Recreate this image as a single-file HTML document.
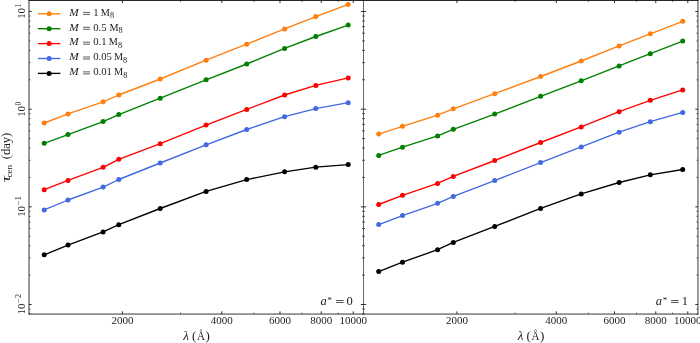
<!DOCTYPE html>
<html><head><meta charset="utf-8"><style>
html,body{margin:0;padding:0;background:#fff;}
body{width:700px;height:343px;overflow:hidden;}
svg{display:block;will-change:transform;font-family:"Liberation Serif",serif;}
</style></head><body>
<svg width="700" height="343" viewBox="0 0 700 343">
<g><polyline points="44.2,123 68,113.9 103.1,101.8 118.8,95 160.2,79 206.1,60.2 246.7,44.2 284.6,28.9 315.8,16.6 348.2,4.4" fill="none" stroke="#ff7f0e" stroke-width="1.35" stroke-linejoin="round"/>
<circle cx="44.2" cy="123" r="2.5" fill="#ff7f0e"/>
<circle cx="68" cy="113.9" r="2.5" fill="#ff7f0e"/>
<circle cx="103.1" cy="101.8" r="2.5" fill="#ff7f0e"/>
<circle cx="118.8" cy="95" r="2.5" fill="#ff7f0e"/>
<circle cx="160.2" cy="79" r="2.5" fill="#ff7f0e"/>
<circle cx="206.1" cy="60.2" r="2.5" fill="#ff7f0e"/>
<circle cx="246.7" cy="44.2" r="2.5" fill="#ff7f0e"/>
<circle cx="284.6" cy="28.9" r="2.5" fill="#ff7f0e"/>
<circle cx="315.8" cy="16.6" r="2.5" fill="#ff7f0e"/>
<circle cx="348.2" cy="4.4" r="2.5" fill="#ff7f0e"/>
<polyline points="44.2,143.3 68,134.6 103.1,121.6 118.8,114.6 160.2,98.2 206.1,79.8 246.7,64 284.6,48.4 315.8,36.5 348.2,25.1" fill="none" stroke="#008000" stroke-width="1.35" stroke-linejoin="round"/>
<circle cx="44.2" cy="143.3" r="2.5" fill="#008000"/>
<circle cx="68" cy="134.6" r="2.5" fill="#008000"/>
<circle cx="103.1" cy="121.6" r="2.5" fill="#008000"/>
<circle cx="118.8" cy="114.6" r="2.5" fill="#008000"/>
<circle cx="160.2" cy="98.2" r="2.5" fill="#008000"/>
<circle cx="206.1" cy="79.8" r="2.5" fill="#008000"/>
<circle cx="246.7" cy="64" r="2.5" fill="#008000"/>
<circle cx="284.6" cy="48.4" r="2.5" fill="#008000"/>
<circle cx="315.8" cy="36.5" r="2.5" fill="#008000"/>
<circle cx="348.2" cy="25.1" r="2.5" fill="#008000"/>
<polyline points="44.2,189.7 68,180.4 103.1,167.3 118.8,159.3 160.2,143.7 206.1,125.1 246.7,109.4 284.6,95 315.8,85.4 348.2,77.9" fill="none" stroke="#ff0000" stroke-width="1.35" stroke-linejoin="round"/>
<circle cx="44.2" cy="189.7" r="2.5" fill="#ff0000"/>
<circle cx="68" cy="180.4" r="2.5" fill="#ff0000"/>
<circle cx="103.1" cy="167.3" r="2.5" fill="#ff0000"/>
<circle cx="118.8" cy="159.3" r="2.5" fill="#ff0000"/>
<circle cx="160.2" cy="143.7" r="2.5" fill="#ff0000"/>
<circle cx="206.1" cy="125.1" r="2.5" fill="#ff0000"/>
<circle cx="246.7" cy="109.4" r="2.5" fill="#ff0000"/>
<circle cx="284.6" cy="95" r="2.5" fill="#ff0000"/>
<circle cx="315.8" cy="85.4" r="2.5" fill="#ff0000"/>
<circle cx="348.2" cy="77.9" r="2.5" fill="#ff0000"/>
<polyline points="44.2,209.9 68,200 103.1,187.1 118.8,179.5 160.2,163 206.1,144.8 246.7,129.5 284.6,116.7 315.8,108.6 348.2,102.7" fill="none" stroke="#4169e1" stroke-width="1.35" stroke-linejoin="round"/>
<circle cx="44.2" cy="209.9" r="2.5" fill="#4169e1"/>
<circle cx="68" cy="200" r="2.5" fill="#4169e1"/>
<circle cx="103.1" cy="187.1" r="2.5" fill="#4169e1"/>
<circle cx="118.8" cy="179.5" r="2.5" fill="#4169e1"/>
<circle cx="160.2" cy="163" r="2.5" fill="#4169e1"/>
<circle cx="206.1" cy="144.8" r="2.5" fill="#4169e1"/>
<circle cx="246.7" cy="129.5" r="2.5" fill="#4169e1"/>
<circle cx="284.6" cy="116.7" r="2.5" fill="#4169e1"/>
<circle cx="315.8" cy="108.6" r="2.5" fill="#4169e1"/>
<circle cx="348.2" cy="102.7" r="2.5" fill="#4169e1"/>
<polyline points="44.2,254.8 68,245.1 103.1,231.9 118.8,224.7 160.2,208.5 206.1,191.4 246.7,179.6 284.6,171.8 315.8,167.2 348.2,164.6" fill="none" stroke="#000000" stroke-width="1.35" stroke-linejoin="round"/>
<circle cx="44.2" cy="254.8" r="2.5" fill="#000000"/>
<circle cx="68" cy="245.1" r="2.5" fill="#000000"/>
<circle cx="103.1" cy="231.9" r="2.5" fill="#000000"/>
<circle cx="118.8" cy="224.7" r="2.5" fill="#000000"/>
<circle cx="160.2" cy="208.5" r="2.5" fill="#000000"/>
<circle cx="206.1" cy="191.4" r="2.5" fill="#000000"/>
<circle cx="246.7" cy="179.6" r="2.5" fill="#000000"/>
<circle cx="284.6" cy="171.8" r="2.5" fill="#000000"/>
<circle cx="315.8" cy="167.2" r="2.5" fill="#000000"/>
<circle cx="348.2" cy="164.6" r="2.5" fill="#000000"/>
<polyline points="378.7,134.1 402.5,126.3 437.6,115.2 453.3,108.8 494.7,93.7 540.6,76.5 581.2,61 619.1,45.9 650.3,33.8 682.7,21.3" fill="none" stroke="#ff7f0e" stroke-width="1.35" stroke-linejoin="round"/>
<circle cx="378.7" cy="134.1" r="2.5" fill="#ff7f0e"/>
<circle cx="402.5" cy="126.3" r="2.5" fill="#ff7f0e"/>
<circle cx="437.6" cy="115.2" r="2.5" fill="#ff7f0e"/>
<circle cx="453.3" cy="108.8" r="2.5" fill="#ff7f0e"/>
<circle cx="494.7" cy="93.7" r="2.5" fill="#ff7f0e"/>
<circle cx="540.6" cy="76.5" r="2.5" fill="#ff7f0e"/>
<circle cx="581.2" cy="61" r="2.5" fill="#ff7f0e"/>
<circle cx="619.1" cy="45.9" r="2.5" fill="#ff7f0e"/>
<circle cx="650.3" cy="33.8" r="2.5" fill="#ff7f0e"/>
<circle cx="682.7" cy="21.3" r="2.5" fill="#ff7f0e"/>
<polyline points="378.7,155.4 402.5,147.2 437.6,135.9 453.3,129.3 494.7,114.1 540.6,96.3 581.2,80.8 619.1,65.9 650.3,53.7 682.7,41.1" fill="none" stroke="#008000" stroke-width="1.35" stroke-linejoin="round"/>
<circle cx="378.7" cy="155.4" r="2.5" fill="#008000"/>
<circle cx="402.5" cy="147.2" r="2.5" fill="#008000"/>
<circle cx="437.6" cy="135.9" r="2.5" fill="#008000"/>
<circle cx="453.3" cy="129.3" r="2.5" fill="#008000"/>
<circle cx="494.7" cy="114.1" r="2.5" fill="#008000"/>
<circle cx="540.6" cy="96.3" r="2.5" fill="#008000"/>
<circle cx="581.2" cy="80.8" r="2.5" fill="#008000"/>
<circle cx="619.1" cy="65.9" r="2.5" fill="#008000"/>
<circle cx="650.3" cy="53.7" r="2.5" fill="#008000"/>
<circle cx="682.7" cy="41.1" r="2.5" fill="#008000"/>
<polyline points="378.7,204.5 402.5,195.3 437.6,183.4 453.3,176.4 494.7,160.5 540.6,142.5 581.2,126.9 619.1,111.7 650.3,100.3 682.7,89.9" fill="none" stroke="#ff0000" stroke-width="1.35" stroke-linejoin="round"/>
<circle cx="378.7" cy="204.5" r="2.5" fill="#ff0000"/>
<circle cx="402.5" cy="195.3" r="2.5" fill="#ff0000"/>
<circle cx="437.6" cy="183.4" r="2.5" fill="#ff0000"/>
<circle cx="453.3" cy="176.4" r="2.5" fill="#ff0000"/>
<circle cx="494.7" cy="160.5" r="2.5" fill="#ff0000"/>
<circle cx="540.6" cy="142.5" r="2.5" fill="#ff0000"/>
<circle cx="581.2" cy="126.9" r="2.5" fill="#ff0000"/>
<circle cx="619.1" cy="111.7" r="2.5" fill="#ff0000"/>
<circle cx="650.3" cy="100.3" r="2.5" fill="#ff0000"/>
<circle cx="682.7" cy="89.9" r="2.5" fill="#ff0000"/>
<polyline points="378.7,224.6 402.5,215.6 437.6,203.3 453.3,196.4 494.7,180.6 540.6,162.6 581.2,146.9 619.1,132.2 650.3,121.7 682.7,112.4" fill="none" stroke="#4169e1" stroke-width="1.35" stroke-linejoin="round"/>
<circle cx="378.7" cy="224.6" r="2.5" fill="#4169e1"/>
<circle cx="402.5" cy="215.6" r="2.5" fill="#4169e1"/>
<circle cx="437.6" cy="203.3" r="2.5" fill="#4169e1"/>
<circle cx="453.3" cy="196.4" r="2.5" fill="#4169e1"/>
<circle cx="494.7" cy="180.6" r="2.5" fill="#4169e1"/>
<circle cx="540.6" cy="162.6" r="2.5" fill="#4169e1"/>
<circle cx="581.2" cy="146.9" r="2.5" fill="#4169e1"/>
<circle cx="619.1" cy="132.2" r="2.5" fill="#4169e1"/>
<circle cx="650.3" cy="121.7" r="2.5" fill="#4169e1"/>
<circle cx="682.7" cy="112.4" r="2.5" fill="#4169e1"/>
<polyline points="378.7,271.6 402.5,262.2 437.6,249.7 453.3,242.4 494.7,226.4 540.6,208.4 581.2,193.9 619.1,182.5 650.3,174.8 682.7,169.5" fill="none" stroke="#000000" stroke-width="1.35" stroke-linejoin="round"/>
<circle cx="378.7" cy="271.6" r="2.5" fill="#000000"/>
<circle cx="402.5" cy="262.2" r="2.5" fill="#000000"/>
<circle cx="437.6" cy="249.7" r="2.5" fill="#000000"/>
<circle cx="453.3" cy="242.4" r="2.5" fill="#000000"/>
<circle cx="494.7" cy="226.4" r="2.5" fill="#000000"/>
<circle cx="540.6" cy="208.4" r="2.5" fill="#000000"/>
<circle cx="581.2" cy="193.9" r="2.5" fill="#000000"/>
<circle cx="619.1" cy="182.5" r="2.5" fill="#000000"/>
<circle cx="650.3" cy="174.8" r="2.5" fill="#000000"/>
<circle cx="682.7" cy="169.5" r="2.5" fill="#000000"/></g>
<g stroke="#000"><line x1="122.4" y1="314.05" x2="122.4" y2="311.35" stroke-width="0.8"/>
<line x1="122.4" y1="0.4" x2="122.4" y2="3.1" stroke-width="0.8"/>
<line x1="180.56" y1="314.05" x2="180.56" y2="312.55" stroke-width="0.6"/>
<line x1="180.56" y1="0.4" x2="180.56" y2="1.9" stroke-width="0.6"/>
<line x1="221.83" y1="314.05" x2="221.83" y2="311.35" stroke-width="0.8"/>
<line x1="221.83" y1="0.4" x2="221.83" y2="3.1" stroke-width="0.8"/>
<line x1="253.84" y1="314.05" x2="253.84" y2="312.55" stroke-width="0.6"/>
<line x1="253.84" y1="0.4" x2="253.84" y2="1.9" stroke-width="0.6"/>
<line x1="279.99" y1="314.05" x2="279.99" y2="311.35" stroke-width="0.8"/>
<line x1="279.99" y1="0.4" x2="279.99" y2="3.1" stroke-width="0.8"/>
<line x1="302.11" y1="314.05" x2="302.11" y2="312.55" stroke-width="0.6"/>
<line x1="302.11" y1="0.4" x2="302.11" y2="1.9" stroke-width="0.6"/>
<line x1="321.26" y1="314.05" x2="321.26" y2="311.35" stroke-width="0.8"/>
<line x1="321.26" y1="0.4" x2="321.26" y2="3.1" stroke-width="0.8"/>
<line x1="338.16" y1="314.05" x2="338.16" y2="312.55" stroke-width="0.6"/>
<line x1="338.16" y1="0.4" x2="338.16" y2="1.9" stroke-width="0.6"/>
<line x1="353.27" y1="314.05" x2="353.27" y2="311.35" stroke-width="0.8"/>
<line x1="353.27" y1="0.4" x2="353.27" y2="3.1" stroke-width="0.8"/>
<line x1="29" y1="313.96" x2="30.5" y2="313.96" stroke-width="0.6"/>
<line x1="363.5" y1="313.96" x2="362" y2="313.96" stroke-width="0.6"/>
<line x1="29" y1="308.97" x2="30.5" y2="308.97" stroke-width="0.6"/>
<line x1="363.5" y1="308.97" x2="362" y2="308.97" stroke-width="0.6"/>
<line x1="29" y1="304.5" x2="31.7" y2="304.5" stroke-width="0.8"/>
<line x1="363.5" y1="304.5" x2="360.8" y2="304.5" stroke-width="0.8"/>
<line x1="29" y1="275.1" x2="30.5" y2="275.1" stroke-width="0.6"/>
<line x1="363.5" y1="275.1" x2="362" y2="275.1" stroke-width="0.6"/>
<line x1="29" y1="257.91" x2="30.5" y2="257.91" stroke-width="0.6"/>
<line x1="363.5" y1="257.91" x2="362" y2="257.91" stroke-width="0.6"/>
<line x1="29" y1="245.71" x2="30.5" y2="245.71" stroke-width="0.6"/>
<line x1="363.5" y1="245.71" x2="362" y2="245.71" stroke-width="0.6"/>
<line x1="29" y1="236.25" x2="30.5" y2="236.25" stroke-width="0.6"/>
<line x1="363.5" y1="236.25" x2="362" y2="236.25" stroke-width="0.6"/>
<line x1="29" y1="228.51" x2="30.5" y2="228.51" stroke-width="0.6"/>
<line x1="363.5" y1="228.51" x2="362" y2="228.51" stroke-width="0.6"/>
<line x1="29" y1="221.98" x2="30.5" y2="221.98" stroke-width="0.6"/>
<line x1="363.5" y1="221.98" x2="362" y2="221.98" stroke-width="0.6"/>
<line x1="29" y1="216.31" x2="30.5" y2="216.31" stroke-width="0.6"/>
<line x1="363.5" y1="216.31" x2="362" y2="216.31" stroke-width="0.6"/>
<line x1="29" y1="211.32" x2="30.5" y2="211.32" stroke-width="0.6"/>
<line x1="363.5" y1="211.32" x2="362" y2="211.32" stroke-width="0.6"/>
<line x1="29" y1="206.85" x2="31.7" y2="206.85" stroke-width="0.8"/>
<line x1="363.5" y1="206.85" x2="360.8" y2="206.85" stroke-width="0.8"/>
<line x1="29" y1="177.45" x2="30.5" y2="177.45" stroke-width="0.6"/>
<line x1="363.5" y1="177.45" x2="362" y2="177.45" stroke-width="0.6"/>
<line x1="29" y1="160.26" x2="30.5" y2="160.26" stroke-width="0.6"/>
<line x1="363.5" y1="160.26" x2="362" y2="160.26" stroke-width="0.6"/>
<line x1="29" y1="148.06" x2="30.5" y2="148.06" stroke-width="0.6"/>
<line x1="363.5" y1="148.06" x2="362" y2="148.06" stroke-width="0.6"/>
<line x1="29" y1="138.6" x2="30.5" y2="138.6" stroke-width="0.6"/>
<line x1="363.5" y1="138.6" x2="362" y2="138.6" stroke-width="0.6"/>
<line x1="29" y1="130.86" x2="30.5" y2="130.86" stroke-width="0.6"/>
<line x1="363.5" y1="130.86" x2="362" y2="130.86" stroke-width="0.6"/>
<line x1="29" y1="124.33" x2="30.5" y2="124.33" stroke-width="0.6"/>
<line x1="363.5" y1="124.33" x2="362" y2="124.33" stroke-width="0.6"/>
<line x1="29" y1="118.66" x2="30.5" y2="118.66" stroke-width="0.6"/>
<line x1="363.5" y1="118.66" x2="362" y2="118.66" stroke-width="0.6"/>
<line x1="29" y1="113.67" x2="30.5" y2="113.67" stroke-width="0.6"/>
<line x1="363.5" y1="113.67" x2="362" y2="113.67" stroke-width="0.6"/>
<line x1="29" y1="109.2" x2="31.7" y2="109.2" stroke-width="0.8"/>
<line x1="363.5" y1="109.2" x2="360.8" y2="109.2" stroke-width="0.8"/>
<line x1="29" y1="79.8" x2="30.5" y2="79.8" stroke-width="0.6"/>
<line x1="363.5" y1="79.8" x2="362" y2="79.8" stroke-width="0.6"/>
<line x1="29" y1="62.61" x2="30.5" y2="62.61" stroke-width="0.6"/>
<line x1="363.5" y1="62.61" x2="362" y2="62.61" stroke-width="0.6"/>
<line x1="29" y1="50.41" x2="30.5" y2="50.41" stroke-width="0.6"/>
<line x1="363.5" y1="50.41" x2="362" y2="50.41" stroke-width="0.6"/>
<line x1="29" y1="40.95" x2="30.5" y2="40.95" stroke-width="0.6"/>
<line x1="363.5" y1="40.95" x2="362" y2="40.95" stroke-width="0.6"/>
<line x1="29" y1="33.21" x2="30.5" y2="33.21" stroke-width="0.6"/>
<line x1="363.5" y1="33.21" x2="362" y2="33.21" stroke-width="0.6"/>
<line x1="29" y1="26.68" x2="30.5" y2="26.68" stroke-width="0.6"/>
<line x1="363.5" y1="26.68" x2="362" y2="26.68" stroke-width="0.6"/>
<line x1="29" y1="21.01" x2="30.5" y2="21.01" stroke-width="0.6"/>
<line x1="363.5" y1="21.01" x2="362" y2="21.01" stroke-width="0.6"/>
<line x1="29" y1="16.02" x2="30.5" y2="16.02" stroke-width="0.6"/>
<line x1="363.5" y1="16.02" x2="362" y2="16.02" stroke-width="0.6"/>
<line x1="29" y1="11.55" x2="31.7" y2="11.55" stroke-width="0.8"/>
<line x1="363.5" y1="11.55" x2="360.8" y2="11.55" stroke-width="0.8"/>
<line x1="456.9" y1="314.05" x2="456.9" y2="311.35" stroke-width="0.8"/>
<line x1="456.9" y1="0.4" x2="456.9" y2="3.1" stroke-width="0.8"/>
<line x1="515.06" y1="314.05" x2="515.06" y2="312.55" stroke-width="0.6"/>
<line x1="515.06" y1="0.4" x2="515.06" y2="1.9" stroke-width="0.6"/>
<line x1="556.33" y1="314.05" x2="556.33" y2="311.35" stroke-width="0.8"/>
<line x1="556.33" y1="0.4" x2="556.33" y2="3.1" stroke-width="0.8"/>
<line x1="588.34" y1="314.05" x2="588.34" y2="312.55" stroke-width="0.6"/>
<line x1="588.34" y1="0.4" x2="588.34" y2="1.9" stroke-width="0.6"/>
<line x1="614.49" y1="314.05" x2="614.49" y2="311.35" stroke-width="0.8"/>
<line x1="614.49" y1="0.4" x2="614.49" y2="3.1" stroke-width="0.8"/>
<line x1="636.61" y1="314.05" x2="636.61" y2="312.55" stroke-width="0.6"/>
<line x1="636.61" y1="0.4" x2="636.61" y2="1.9" stroke-width="0.6"/>
<line x1="655.76" y1="314.05" x2="655.76" y2="311.35" stroke-width="0.8"/>
<line x1="655.76" y1="0.4" x2="655.76" y2="3.1" stroke-width="0.8"/>
<line x1="672.66" y1="314.05" x2="672.66" y2="312.55" stroke-width="0.6"/>
<line x1="672.66" y1="0.4" x2="672.66" y2="1.9" stroke-width="0.6"/>
<line x1="687.77" y1="314.05" x2="687.77" y2="311.35" stroke-width="0.8"/>
<line x1="687.77" y1="0.4" x2="687.77" y2="3.1" stroke-width="0.8"/>
<line x1="363.5" y1="313.96" x2="365" y2="313.96" stroke-width="0.6"/>
<line x1="697.97" y1="313.96" x2="696.47" y2="313.96" stroke-width="0.6"/>
<line x1="363.5" y1="308.97" x2="365" y2="308.97" stroke-width="0.6"/>
<line x1="697.97" y1="308.97" x2="696.47" y2="308.97" stroke-width="0.6"/>
<line x1="363.5" y1="304.5" x2="366.2" y2="304.5" stroke-width="0.8"/>
<line x1="697.97" y1="304.5" x2="695.27" y2="304.5" stroke-width="0.8"/>
<line x1="363.5" y1="275.1" x2="365" y2="275.1" stroke-width="0.6"/>
<line x1="697.97" y1="275.1" x2="696.47" y2="275.1" stroke-width="0.6"/>
<line x1="363.5" y1="257.91" x2="365" y2="257.91" stroke-width="0.6"/>
<line x1="697.97" y1="257.91" x2="696.47" y2="257.91" stroke-width="0.6"/>
<line x1="363.5" y1="245.71" x2="365" y2="245.71" stroke-width="0.6"/>
<line x1="697.97" y1="245.71" x2="696.47" y2="245.71" stroke-width="0.6"/>
<line x1="363.5" y1="236.25" x2="365" y2="236.25" stroke-width="0.6"/>
<line x1="697.97" y1="236.25" x2="696.47" y2="236.25" stroke-width="0.6"/>
<line x1="363.5" y1="228.51" x2="365" y2="228.51" stroke-width="0.6"/>
<line x1="697.97" y1="228.51" x2="696.47" y2="228.51" stroke-width="0.6"/>
<line x1="363.5" y1="221.98" x2="365" y2="221.98" stroke-width="0.6"/>
<line x1="697.97" y1="221.98" x2="696.47" y2="221.98" stroke-width="0.6"/>
<line x1="363.5" y1="216.31" x2="365" y2="216.31" stroke-width="0.6"/>
<line x1="697.97" y1="216.31" x2="696.47" y2="216.31" stroke-width="0.6"/>
<line x1="363.5" y1="211.32" x2="365" y2="211.32" stroke-width="0.6"/>
<line x1="697.97" y1="211.32" x2="696.47" y2="211.32" stroke-width="0.6"/>
<line x1="363.5" y1="206.85" x2="366.2" y2="206.85" stroke-width="0.8"/>
<line x1="697.97" y1="206.85" x2="695.27" y2="206.85" stroke-width="0.8"/>
<line x1="363.5" y1="177.45" x2="365" y2="177.45" stroke-width="0.6"/>
<line x1="697.97" y1="177.45" x2="696.47" y2="177.45" stroke-width="0.6"/>
<line x1="363.5" y1="160.26" x2="365" y2="160.26" stroke-width="0.6"/>
<line x1="697.97" y1="160.26" x2="696.47" y2="160.26" stroke-width="0.6"/>
<line x1="363.5" y1="148.06" x2="365" y2="148.06" stroke-width="0.6"/>
<line x1="697.97" y1="148.06" x2="696.47" y2="148.06" stroke-width="0.6"/>
<line x1="363.5" y1="138.6" x2="365" y2="138.6" stroke-width="0.6"/>
<line x1="697.97" y1="138.6" x2="696.47" y2="138.6" stroke-width="0.6"/>
<line x1="363.5" y1="130.86" x2="365" y2="130.86" stroke-width="0.6"/>
<line x1="697.97" y1="130.86" x2="696.47" y2="130.86" stroke-width="0.6"/>
<line x1="363.5" y1="124.33" x2="365" y2="124.33" stroke-width="0.6"/>
<line x1="697.97" y1="124.33" x2="696.47" y2="124.33" stroke-width="0.6"/>
<line x1="363.5" y1="118.66" x2="365" y2="118.66" stroke-width="0.6"/>
<line x1="697.97" y1="118.66" x2="696.47" y2="118.66" stroke-width="0.6"/>
<line x1="363.5" y1="113.67" x2="365" y2="113.67" stroke-width="0.6"/>
<line x1="697.97" y1="113.67" x2="696.47" y2="113.67" stroke-width="0.6"/>
<line x1="363.5" y1="109.2" x2="366.2" y2="109.2" stroke-width="0.8"/>
<line x1="697.97" y1="109.2" x2="695.27" y2="109.2" stroke-width="0.8"/>
<line x1="363.5" y1="79.8" x2="365" y2="79.8" stroke-width="0.6"/>
<line x1="697.97" y1="79.8" x2="696.47" y2="79.8" stroke-width="0.6"/>
<line x1="363.5" y1="62.61" x2="365" y2="62.61" stroke-width="0.6"/>
<line x1="697.97" y1="62.61" x2="696.47" y2="62.61" stroke-width="0.6"/>
<line x1="363.5" y1="50.41" x2="365" y2="50.41" stroke-width="0.6"/>
<line x1="697.97" y1="50.41" x2="696.47" y2="50.41" stroke-width="0.6"/>
<line x1="363.5" y1="40.95" x2="365" y2="40.95" stroke-width="0.6"/>
<line x1="697.97" y1="40.95" x2="696.47" y2="40.95" stroke-width="0.6"/>
<line x1="363.5" y1="33.21" x2="365" y2="33.21" stroke-width="0.6"/>
<line x1="697.97" y1="33.21" x2="696.47" y2="33.21" stroke-width="0.6"/>
<line x1="363.5" y1="26.68" x2="365" y2="26.68" stroke-width="0.6"/>
<line x1="697.97" y1="26.68" x2="696.47" y2="26.68" stroke-width="0.6"/>
<line x1="363.5" y1="21.01" x2="365" y2="21.01" stroke-width="0.6"/>
<line x1="697.97" y1="21.01" x2="696.47" y2="21.01" stroke-width="0.6"/>
<line x1="363.5" y1="16.02" x2="365" y2="16.02" stroke-width="0.6"/>
<line x1="697.97" y1="16.02" x2="696.47" y2="16.02" stroke-width="0.6"/>
<line x1="363.5" y1="11.55" x2="366.2" y2="11.55" stroke-width="0.8"/>
<line x1="697.97" y1="11.55" x2="695.27" y2="11.55" stroke-width="0.8"/></g>
<g stroke="#000" fill="none"><path d="M29 0 V314.45 M697.97 0 V314.45 M28.6 314.05 H698.37" stroke-width="0.8"/><path d="M28.6 0.45 H698.37" stroke-width="0.9"/><path d="M363.5 0 V314.05" stroke-width="0.6"/></g>
<g><line x1="37.9" y1="13.8" x2="60.4" y2="13.8" stroke="#ff7f0e" stroke-width="1.35"/>
<circle cx="49.15" cy="13.8" r="2.5" fill="#ff7f0e"/>
<line x1="37.9" y1="28.7" x2="60.4" y2="28.7" stroke="#008000" stroke-width="1.35"/>
<circle cx="49.15" cy="28.7" r="2.5" fill="#008000"/>
<line x1="37.9" y1="43.6" x2="60.4" y2="43.6" stroke="#ff0000" stroke-width="1.35"/>
<circle cx="49.15" cy="43.6" r="2.5" fill="#ff0000"/>
<line x1="37.9" y1="58.5" x2="60.4" y2="58.5" stroke="#4169e1" stroke-width="1.35"/>
<circle cx="49.15" cy="58.5" r="2.5" fill="#4169e1"/>
<line x1="37.9" y1="73.4" x2="60.4" y2="73.4" stroke="#000000" stroke-width="1.35"/>
<circle cx="49.15" cy="73.4" r="2.5" fill="#000000"/></g>
<g fill="#1c1c1c"><text x="122.4" y="324.3" text-anchor="middle" font-size="11">2000</text>
<text x="221.83" y="324.3" text-anchor="middle" font-size="11">4000</text>
<text x="279.99" y="324.3" text-anchor="middle" font-size="11">6000</text>
<text x="321.26" y="324.3" text-anchor="middle" font-size="11">8000</text>
<text x="353.27" y="324.3" text-anchor="middle" font-size="11">10000</text>
<text x="183.3" y="340.1" font-size="13" font-style="italic">λ</text>
<text x="192.1" y="340.1" font-size="13">(</text>
<text x="196.9" y="340.1" font-size="13" textLength="8" lengthAdjust="spacingAndGlyphs">Å</text>
<text x="205.5" y="340.1" font-size="13">)</text>
<text x="456.9" y="324.3" text-anchor="middle" font-size="11">2000</text>
<text x="556.33" y="324.3" text-anchor="middle" font-size="11">4000</text>
<text x="614.49" y="324.3" text-anchor="middle" font-size="11">6000</text>
<text x="655.76" y="324.3" text-anchor="middle" font-size="11">8000</text>
<text x="687.77" y="324.3" text-anchor="middle" font-size="11">10000</text>
<text x="517.8" y="340.1" font-size="13" font-style="italic">λ</text>
<text x="526.6" y="340.1" font-size="13">(</text>
<text x="531.4" y="340.1" font-size="13" textLength="8" lengthAdjust="spacingAndGlyphs">Å</text>
<text x="540" y="340.1" font-size="13">)</text>
<g transform="translate(24.55,18.84) rotate(-90)"><text x="0" y="0" font-size="10.9">10</text><text x="11.3" y="-3.3" font-size="7.5">1</text></g>
<g transform="translate(24.55,116.84) rotate(-90)"><text x="0" y="0" font-size="10.9">10</text><text x="11.3" y="-3.3" font-size="7.5">0</text></g>
<g transform="translate(24.55,216.84) rotate(-90)"><text x="0" y="0" font-size="10.9">10</text><text x="11.3" y="-3.3" font-size="7.5" textLength="9.3" lengthAdjust="spacingAndGlyphs">−1</text></g>
<g transform="translate(24.55,314.54) rotate(-90)"><text x="0" y="0" font-size="10.9">10</text><text x="11.3" y="-3.3" font-size="7.5" textLength="9.3" lengthAdjust="spacingAndGlyphs">−2</text></g>
<g transform="translate(9.6,181.9) rotate(-90)"><text x="0" y="0" font-size="13" font-style="italic" textLength="6.1" lengthAdjust="spacingAndGlyphs">τ</text><text x="4.46" y="2.4" font-size="9" textLength="12.6" lengthAdjust="spacingAndGlyphs">cen</text><text x="22.63" y="0" font-size="13" textLength="26.6" lengthAdjust="spacingAndGlyphs">(day)</text></g>
<text x="320.6" y="304.8" font-size="12.5" font-style="italic">a</text>
<text x="327.6" y="303" font-size="9">*</text>
<rect x="335.95" y="300.05" width="7.5" height="0.75"/><rect x="335.95" y="302.05" width="7.5" height="0.75"/>
<text x="346.62" y="304.8" font-size="12.5">0</text>
<text x="655.7" y="304.8" font-size="12.5" font-style="italic">a</text>
<text x="662.7" y="303" font-size="9">*</text>
<rect x="671.05" y="300.05" width="7.5" height="0.75"/><rect x="671.05" y="302.05" width="7.5" height="0.75"/>
<text x="681.73" y="304.8" font-size="12.5">1</text>
<text x="69.14" y="15.65" font-size="11.3" font-style="italic">M</text>
<rect x="83.05" y="11.95" width="7.0" height="0.7"/><rect x="83.05" y="13.95" width="7.0" height="0.7"/>
<text x="93.25" y="15.65" font-size="10.7">1</text>
<text x="100.69" y="15.65" font-size="11.3" textLength="9.1" lengthAdjust="spacingAndGlyphs">M</text>
<text x="109.89" y="18.35" font-size="8.2">8</text>
<text x="69.14" y="30.55" font-size="11.3" font-style="italic">M</text>
<rect x="83.05" y="26.85" width="7.0" height="0.7"/><rect x="83.05" y="28.85" width="7.0" height="0.7"/>
<text x="93.25" y="30.55" font-size="10.7">0.5</text>
<text x="109.39" y="30.55" font-size="11.3" textLength="9.1" lengthAdjust="spacingAndGlyphs">M</text>
<text x="118.59" y="33.25" font-size="8.2">8</text>
<text x="69.14" y="45.45" font-size="11.3" font-style="italic">M</text>
<rect x="83.05" y="41.75" width="7.0" height="0.7"/><rect x="83.05" y="43.75" width="7.0" height="0.7"/>
<text x="93.25" y="45.45" font-size="10.7">0.1</text>
<text x="108.69" y="45.45" font-size="11.3" textLength="9.1" lengthAdjust="spacingAndGlyphs">M</text>
<text x="117.89" y="48.15" font-size="8.2">8</text>
<text x="69.14" y="60.35" font-size="11.3" font-style="italic">M</text>
<rect x="83.05" y="56.65" width="7.0" height="0.7"/><rect x="83.05" y="58.65" width="7.0" height="0.7"/>
<text x="93.25" y="60.35" font-size="10.7">0.05</text>
<text x="113.89" y="60.35" font-size="11.3" textLength="9.1" lengthAdjust="spacingAndGlyphs">M</text>
<text x="123.09" y="63.05" font-size="8.2">8</text>
<text x="69.14" y="75.25" font-size="11.3" font-style="italic">M</text>
<rect x="83.05" y="71.55" width="7.0" height="0.7"/><rect x="83.05" y="73.55" width="7.0" height="0.7"/>
<text x="93.25" y="75.25" font-size="10.7">0.01</text>
<text x="113.99" y="75.25" font-size="11.3" textLength="9.1" lengthAdjust="spacingAndGlyphs">M</text>
<text x="123.19" y="77.95" font-size="8.2">8</text></g>
</svg>
</body></html>
